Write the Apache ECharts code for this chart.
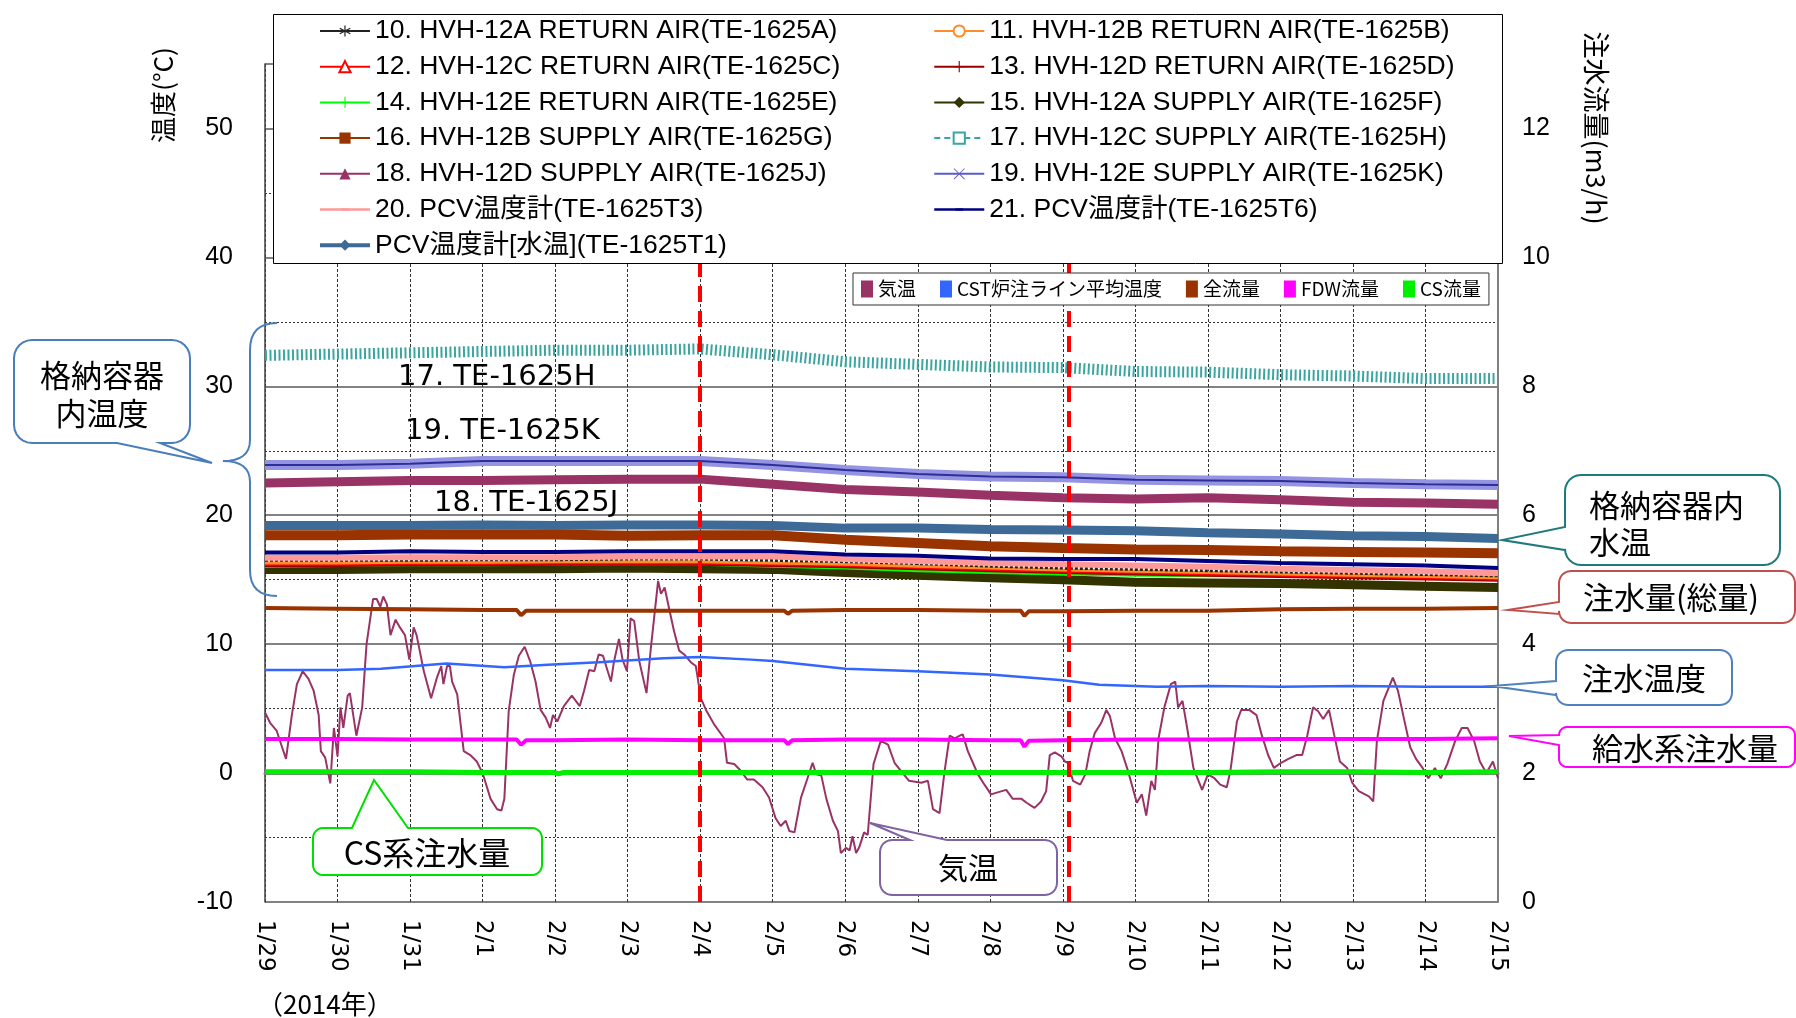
<!DOCTYPE html>
<html><head><meta charset="utf-8">
<script src="https://cdn.jsdelivr.net/npm/echarts@6/dist/echarts.min.js"></script>
<style>html,body{margin:0;padding:0;background:#fff;}#c{width:1796px;height:1018px;}</style>
</head><body><div id="c"></div>
<script>
// ---------- data ----------
const dateLabels = ['1/29','1/30','1/31','2/1','2/2','2/3','2/4','2/5','2/6','2/7','2/8','2/9','2/10','2/11','2/12','2/13','2/14','2/15'];
const days = [0,1,2,3,4,5,6,7,8,9,10,11,12,13,14,15,16,17];
const te1625A = [16.5,16.5,16.5,16.55,16.55,16.6,16.6,16.5,16.4,16.25,16.05,15.9,15.8,15.7,15.6,15.5,15.4,15.3];
const te1625B = [16.3,16.3,16.35,16.35,16.4,16.4,16.4,16.3,16.2,16.05,15.9,15.75,15.65,15.55,15.45,15.35,15.25,15.15];
const te1625C = [16.2,16.2,16.25,16.25,16.3,16.3,16.3,16.2,16.1,15.95,15.8,15.65,15.55,15.45,15.35,15.25,15.15,15.05];
const te1625D = [16.1,16.1,16.15,16.15,16.2,16.2,16.2,16.1,16.0,15.85,15.7,15.55,15.45,15.35,15.25,15.15,15.05,14.95];
const te1625E = [16.05,16.1,16.15,16.15,16.2,16.2,16.2,16.05,15.9,15.7,15.55,15.45,15.35,15.3,15.3,15.25,15.2,15.15];
const te1625F = [15.8,15.8,15.85,15.85,15.85,15.9,15.85,15.8,15.55,15.35,15.15,15.0,14.8,14.75,14.7,14.6,14.5,14.4];
const te1625G = [18.45,18.45,18.5,18.5,18.5,18.4,18.45,18.45,18.1,17.85,17.6,17.45,17.35,17.3,17.2,17.15,17.1,17.05];
const te1625H = [32.4,32.5,32.6,32.7,32.8,32.8,32.9,32.45,31.9,31.7,31.5,31.45,31.15,31.1,30.9,30.8,30.6,30.6];
const te1625J = [22.5,22.6,22.7,22.7,22.75,22.8,22.8,22.4,22.0,21.8,21.55,21.35,21.25,21.35,21.2,21.0,20.95,20.85];
const te1625K = [23.9,23.9,24.0,24.2,24.2,24.2,24.2,23.9,23.5,23.2,23.0,22.95,22.75,22.7,22.65,22.5,22.4,22.35];
const te1625T3 = [16.7,16.7,16.75,16.75,16.75,16.8,16.8,16.8,16.6,16.45,16.3,16.2,16.1,16.0,15.85,15.75,15.65,15.5];
const te1625T6 = [17.1,17.1,17.2,17.15,17.15,17.2,17.2,17.2,16.95,16.85,16.65,16.6,16.6,16.45,16.3,16.2,16.1,15.9];
const te1625T1 = [19.2,19.2,19.2,19.25,19.2,19.25,19.25,19.2,19.0,19.0,18.9,18.85,18.8,18.65,18.55,18.4,18.35,18.2];

const airTemp = [[0,4.7],[0.07,3.9],[0.16,3.3],[0.23,2.1],[0.29,1.1],[0.37,4.5],[0.44,6.9],[0.52,7.9],[0.6,7.3],[0.67,6.4],[0.74,4.5],[0.77,1.7],[0.83,1.2],[0.9,-0.8],[0.95,3.5],[1.0,1.3],[1.04,5.1],[1.08,3.5],[1.14,6.0],[1.17,6.2],[1.26,2.9],[1.34,5.1],[1.4,10.0],[1.49,13.5],[1.54,13.5],[1.59,12.9],[1.63,13.7],[1.68,13.1],[1.73,10.7],[1.8,11.9],[1.86,11.3],[1.93,10.7],[1.99,8.8],[2.05,11.3],[2.09,10.7],[2.19,7.9],[2.29,5.8],[2.37,7.4],[2.43,8.3],[2.46,6.9],[2.51,8.3],[2.55,8.3],[2.58,7.1],[2.65,6.1],[2.74,1.7],[2.83,1.4],[2.92,0.9],[3.0,0.0],[3.11,-2.0],[3.2,-2.8],[3.26,-2.9],[3.3,-2.0],[3.36,4.8],[3.43,7.6],[3.5,9.1],[3.58,9.8],[3.66,8.6],[3.73,7.1],[3.8,4.9],[3.87,4.3],[3.93,3.5],[3.97,4.5],[4.03,4.0],[4.12,5.2],[4.23,6.0],[4.34,5.2],[4.4,6.4],[4.47,8.0],[4.54,7.9],[4.6,9.2],[4.66,9.1],[4.72,8.0],[4.77,7.1],[4.81,8.6],[4.88,10.4],[4.93,8.8],[4.99,7.9],[5.04,12.0],[5.09,11.8],[5.16,8.7],[5.26,6.2],[5.32,9.7],[5.42,14.9],[5.46,13.9],[5.51,14.4],[5.57,12.8],[5.64,11.0],[5.71,9.5],[5.78,9.2],[5.87,8.6],[5.94,8.3],[6.01,5.8],[6.08,4.9],[6.19,3.8],[6.33,2.7],[6.37,0.8],[6.47,0.7],[6.54,0.3],[6.65,-0.5],[6.74,-0.5],[6.86,-1.1],[6.95,-1.9],[7.04,-3.5],[7.11,-4.1],[7.18,-3.7],[7.23,-4.5],[7.3,-4.6],[7.39,-1.9],[7.48,-0.4],[7.55,0.8],[7.6,-0.1],[7.67,-0.2],[7.74,-2.0],[7.83,-3.7],[7.9,-4.5],[7.94,-6.2],[8.01,-5.8],[8.06,-6.0],[8.1,-4.9],[8.15,-6.2],[8.19,-5.8],[8.26,-4.6],[8.31,-4.8],[8.39,0.7],[8.49,2.5],[8.59,2.2],[8.68,0.8],[8.77,0.15],[8.88,-0.6],[9.05,-0.75],[9.14,-0.6],[9.21,-2.8],[9.3,-3.1],[9.37,0.15],[9.44,2.9],[9.51,2.7],[9.58,2.9],[9.62,3.0],[9.69,1.7],[9.76,0.8],[9.83,-0.1],[9.92,-0.9],[10.01,-1.65],[10.1,-1.5],[10.22,-1.3],[10.31,-2.0],[10.43,-2.0],[10.5,-2.3],[10.61,-2.7],[10.7,-2.2],[10.77,-1.4],[10.82,1.4],[10.89,1.6],[10.98,1.3],[11.03,0.9],[11.07,0.8],[11.14,-0.6],[11.24,-0.9],[11.31,-0.1],[11.37,1.7],[11.44,3.1],[11.53,3.9],[11.6,4.9],[11.65,4.4],[11.72,2.7],[11.81,1.7],[11.9,0.15],[12.02,-2.3],[12.09,-1.65],[12.15,-3.3],[12.22,-0.6],[12.27,-1.3],[12.32,2.7],[12.4,5.1],[12.49,6.9],[12.55,7.1],[12.59,5.1],[12.65,5.6],[12.72,3.3],[12.8,0.4],[12.92,-1.3],[13.0,-0.1],[13.09,-0.4],[13.17,-0.9],[13.26,-1.1],[13.31,0.15],[13.4,4.0],[13.46,4.9],[13.57,4.9],[13.67,4.5],[13.74,3.0],[13.83,1.4],[13.91,0.4],[14.01,0.8],[14.11,1.1],[14.22,1.4],[14.3,1.4],[14.37,2.9],[14.45,5.1],[14.52,4.8],[14.59,4.2],[14.67,4.9],[14.74,3.0],[14.82,0.9],[14.92,0.4],[14.99,-0.75],[15.08,-1.4],[15.22,-1.8],[15.28,-2.2],[15.33,2.5],[15.42,5.6],[15.55,7.4],[15.62,6.4],[15.7,4.3],[15.79,2.0],[15.87,1.1],[15.96,0.4],[16.04,-0.4],[16.13,0.4],[16.21,-0.4],[16.3,0.7],[16.41,2.5],[16.5,3.5],[16.58,3.5],[16.67,2.5],[16.75,0.9],[16.84,0.0],[16.93,0.9],[17.0,-0.4]];
const cstTemp = [[0,8.0],[1,8.0],[1.6,8.1],[2.5,8.5],[3.3,8.2],[3.9,8.4],[4.6,8.6],[5.5,8.9],[6,9.0],[6.7,8.8],[7,8.7],[8,8.1],[9,7.9],[10,7.65],[11,7.2],[11.5,6.85],[12.3,6.7],[13,6.75],[14,6.7],[15,6.75],[16,6.7],[17,6.7]];
const totalFlow = [[0,4.56],[1,4.55],[2,4.54],[3,4.53],[3.47,4.53],[3.53,4.45],[3.6,4.52],[4,4.52],[5,4.52],[6,4.52],[7,4.52],[7.16,4.52],[7.21,4.47],[7.27,4.52],[8,4.53],[9,4.53],[10,4.52],[10.42,4.52],[10.47,4.44],[10.53,4.51],[11,4.51],[12,4.52],[13,4.52],[14,4.54],[15,4.55],[16,4.55],[17,4.56]];
const fdwFlow = [[0,2.53],[1,2.53],[2,2.52],[3,2.52],[3.47,2.52],[3.53,2.44],[3.6,2.51],[4,2.51],[5,2.52],[6,2.51],[7,2.51],[7.16,2.51],[7.21,2.45],[7.27,2.51],[8,2.52],[9,2.52],[10,2.51],[10.42,2.51],[10.47,2.41],[10.53,2.5],[11,2.51],[12,2.52],[13,2.52],[14,2.53],[15,2.53],[16,2.53],[17,2.54]];
const csFlow = [[0,2.02],[1,2.02],[2,2.02],[3,2.01],[3.98,2.01],[4.05,1.99],[4.12,2.01],[5,2.01],[6,2.01],[7,2.01],[8,2.01],[9,2.01],[10,2.01],[11,2.01],[12,2.01],[13,2.01],[14,2.02],[15,2.02],[16,2.01],[17,2.02]];
const eventDays = [6, 11.08];

// ---------- helpers ----------
const FONT_L = '"Liberation Sans", "Noto Sans CJK JP", sans-serif';
const FONT_J = '"Noto Sans CJK JP", sans-serif';
const zip = (xs, ys) => xs.map((x, i) => [x, ys[i]]);

const N = {
  A:'10. HVH-12A RETURN AIR(TE-1625A)', B:'11. HVH-12B RETURN AIR(TE-1625B)',
  C:'12. HVH-12C RETURN AIR(TE-1625C)', D:'13. HVH-12D RETURN AIR(TE-1625D)',
  E:'14. HVH-12E RETURN AIR(TE-1625E)', F:'15. HVH-12A SUPPLY AIR(TE-1625F)',
  G:'16. HVH-12B SUPPLY AIR(TE-1625G)', H:'17. HVH-12C SUPPLY AIR(TE-1625H)',
  J:'18. HVH-12D SUPPLY AIR(TE-1625J)', K:'19. HVH-12E SUPPLY AIR(TE-1625K)',
  T3:'20. PCV温度計(TE-1625T3)', T6:'21. PCV温度計(TE-1625T6)', T1:'PCV温度計[水温](TE-1625T1)',
  air:'気温', cst:'CST炉注ライン平均温度', tot:'全流量', fdw:'FDW流量', cs:'CS流量'
};
const SYM_AST = 'path://M9,0h2v8.3l7.2-4.2 1,1.7-7.2,4.2 7.2,4.2-1,1.7-7.2-4.2V20h-2v-8.3l-7.2,4.2-1-1.7 7.2-4.2-7.2-4.2 1-1.7 7.2,4.2z';
const SYM_PLUS = 'path://M9,0h2v9h9v2h-9v9h-2v-9H0v-2h9z';
const SYM_X = 'path://M2,1L10,9L18,1L19,2L11,10L19,18L18,19L10,11L2,19L1,18L9,10L1,2z';
const SYM_BAR = 'path://M0,0M20,20M3,8h14v4H3z';

function ln(name, data, color, width, symbol, extra) {
  const s = {
    name, type:'line', data, symbol, showSymbol:false, symbolSize:10,
    yAxisIndex:0, itemStyle:{color}, lineStyle:{color, width},
    emphasis:{disabled:true}, silent:true, animation:false, z:2
  };
  if (extra) {
    if (extra.lineStyle) Object.assign(s.lineStyle, extra.lineStyle);
    if (extra.yAxisIndex != null) s.yAxisIndex = extra.yAxisIndex;
    if (extra.markLine) s.markLine = extra.markLine;
  }
  return s;
}

function arcPts(cx, cy, r, a0, a1, n) {
  const p = [];
  for (let i = 0; i <= n; i++) { const a = a0 + (a1 - a0) * i / n; p.push([cx + r * Math.cos(a), cy + r * Math.sin(a)]); }
  return p;
}
function calloutPts(x, y, w, h, r, ptr) {
  const x2 = x + w, y2 = y + h, P = [];
  P.push(...arcPts(x + r, y + r, r, Math.PI, 1.5 * Math.PI, 6));
  if (ptr.side === 'top') P.push([ptr.a, y], [ptr.tx, ptr.ty], [ptr.b, y]);
  P.push(...arcPts(x2 - r, y + r, r, 1.5 * Math.PI, 2 * Math.PI, 6));
  P.push(...arcPts(x2 - r, y2 - r, r, 0, 0.5 * Math.PI, 6));
  if (ptr.side === 'bottom') P.push([ptr.b, y2], [ptr.tx, ptr.ty], [ptr.a, y2]);
  P.push(...arcPts(x + r, y2 - r, r, 0.5 * Math.PI, Math.PI, 6));
  if (ptr.side === 'left') P.push([x, ptr.b], [ptr.tx, ptr.ty], [x, ptr.a]);
  return P;
}
function txt(s, x, y, font, align, extra) {
  return Object.assign({ type:'text', x, y, z:13, silent:true,
    style:{ text:s, font, fill:'#000', align:align||'center', verticalAlign:'middle', textAlign:align||'center', textVerticalAlign:'middle' } }, extra || {});
}
function callout(box, ptr, stroke, lines) {
  const els = [{ type:'polygon', z:12, silent:true, shape:{ points: calloutPts(box[0], box[1], box[2], box[3], box[4], ptr) },
    style:{ fill:'#fff', stroke, lineWidth:2 } }];
  lines.forEach(l => els.push(txt(l[0], l[1], l[2], (l[4] || 31) + 'px ' + FONT_J, l[3])));
  return els;
}
function quad(p0, p1, p2, n) {
  const p = [];
  for (let i = 1; i <= n; i++) { const t = i / n, u = 1 - t;
    p.push([u*u*p0[0] + 2*u*t*p1[0] + t*t*p2[0], u*u*p0[1] + 2*u*t*p1[1] + t*t*p2[1]]); }
  return p;
}
const brace = [[277,323]].concat(quad([277,323],[250,323],[250,350],8), [[250,440]],
  quad([250,440],[250,461],[223,461],8), quad([223,461],[250,461],[250,482],8), [[250,570]],
  quad([250,570],[250,596],[277,596],8));

// ---------- series ----------
const series = [
  ln(N.air, airTemp, '#993366', 2),
  ln(N.cst, cstTemp, '#3366FF', 2.5),
  ln(N.tot, totalFlow, '#993300', 4, 'none', {yAxisIndex:1}),
  ln(N.fdw, fdwFlow, '#FF00FF', 4, 'none', {yAxisIndex:1}),
  ln(N.cs, csFlow, '#00EE00', 5, 'none', {yAxisIndex:1, markLine:{
    silent:true, symbol:['none','none'], animation:false, label:{show:false},
    lineStyle:{color:'#FF0000', width:4, type:[16,9]},
    data: eventDays.map(d => ({xAxis:d}))
  }}),
  ln(N.F, zip(days, te1625F), '#333300', 9, 'diamond'),
  ln(N.E, zip(days, te1625E), '#00FF00', 3, SYM_PLUS),
  ln(N.D, zip(days, te1625D), '#990000', 3, SYM_PLUS),
  ln(N.C, zip(days, te1625C), '#FF0000', 3, 'emptyTriangle'),
  ln(N.B, zip(days, te1625B), '#FF8C2A', 3, 'emptyCircle'),
  ln(N.A, zip(days, te1625A), '#222222', 3, SYM_AST, {lineStyle:{type:[3,2]}}),
  ln(N.T3, zip(days, te1625T3), '#FF9999', 6, SYM_BAR),
  ln(N.T6, zip(days, te1625T6), '#000080', 4, SYM_BAR),
  ln(N.G, zip(days, te1625G), '#993300', 10, 'rect'),
  ln(N.T1, zip(days, te1625T1), '#3D6A96', 9, 'diamond'),
  ln(N.J, zip(days, te1625J), '#993366', 9, 'triangle'),
  ln(N.K, zip(days, te1625K), '#5B5BC8', 10, SYM_X, {lineStyle:{color:'#9494E2'}}),
  Object.assign(ln('19c', zip(days, te1625K), '#2E2E99', 2, 'none'), {legendHoverLink:false}),
  ln(N.H, zip(days, te1625H), '#3AA69F', 11, 'emptyRect', {lineStyle:{type:[2,2.5]}})
];

// ---------- legends ----------
const legBase = {
  orient:'vertical', top:16, itemWidth:50, itemHeight:14, itemGap:5.7, padding:0, z:20,
  selectedMode:false, lineStyle:{width:2, type:'solid'},
  textStyle:{fontSize:26.5, fontFamily:FONT_L, color:'#000', lineHeight:30}
};
const legendLeft = [{name:N.A},{name:N.C},{name:N.E},{name:N.G},{name:N.J},{name:N.T3, lineStyle:{width:2.5}},{name:N.T1, lineStyle:{width:4}}];
const legendRight = [{name:N.B},{name:N.D},{name:N.F},{name:N.H, lineStyle:{type:[6,4]}},{name:N.K, lineStyle:{color:'#5B5BC8'}},{name:N.T6, lineStyle:{width:2.5}}];

const option = {
  animation:false,
  textStyle:{fontFamily:FONT_L},
  grid:{left:265, right:298, top:64, bottom:116, containLabel:false},
  legend:[
    Object.assign({}, legBase, {left:318, data:legendLeft}),
    Object.assign({}, legBase, {left:933, data:legendRight}),
    { orient:'horizontal', left:853, top:273, icon:'rect', itemWidth:12, itemHeight:17, itemGap:24,
      padding:[6,8,6,8], borderColor:'#333', borderWidth:1, backgroundColor:'#fff', z:20, selectedMode:false,
      textStyle:{fontSize:19, fontFamily:FONT_J, color:'#000', lineHeight:20},
      data:[N.air, N.cst, N.tot, N.fdw, N.cs] }
  ],
  xAxis:{
    type:'value', min:0, max:17, interval:1,
    axisLine:{show:true, lineStyle:{color:'#808080', width:3}},
    axisTick:{show:false},
    splitLine:{show:true, lineStyle:{color:'#333', width:1, type:[3,2]}},
    axisLabel:{rotate:-90, margin:18, fontSize:23, fontFamily:'"DejaVu Sans", sans-serif', color:'#000',
      formatter: v => dateLabels[Math.round(v)] || ''}
  },
  yAxis:[
    { type:'value', min:-10, max:55, interval:10, position:'left',
      axisLine:{show:true, lineStyle:{color:'#404040', width:1.5}},
      axisTick:{show:false},
      axisLabel:{fontSize:25, margin:32, color:'#000', showMaxLabel:false},
      splitLine:{show:true, lineStyle:{color:'#595959', width:1.5}},
      minorTick:{show:false, splitNumber:2},
      minorSplitLine:{show:true, lineStyle:{color:'#333', width:1, type:[2,2]}} },
    { type:'value', min:0, max:13, interval:2, position:'right',
      axisLine:{show:true, lineStyle:{color:'#808080', width:2}},
      axisTick:{show:false}, splitLine:{show:false},
      axisLabel:{fontSize:25, margin:24, color:'#000', showMaxLabel:false} }
  ],
  series,
  graphic:[].concat(
    [{ type:'rect', z:10, silent:true, shape:{x:273.5, y:14.5, width:1229, height:249}, style:{fill:'#fff', stroke:'#000', lineWidth:1} },
     { type:'polyline', z:10, silent:true, shape:{points:brace}, style:{fill:'none', stroke:'#4A7EBB', lineWidth:2} },
     txt('温度(°C)', 163, 95, '26px ' + FONT_J, 'center', {rotation:Math.PI/2}),
     txt('注水流量(m3/h)', 1596, 128, '27px ' + FONT_J, 'center', {rotation:-Math.PI/2}),
     txt('（2014年）', 257, 1004, '26px ' + FONT_J, 'left'),
     txt('17. TE-1625H', 398, 377, '29px "DejaVu Sans", sans-serif', 'left'),
     txt('19. TE-1625K', 405, 431, '29px "DejaVu Sans", sans-serif', 'left'),
     txt('18. TE-1625J', 434, 503, '29px "DejaVu Sans", sans-serif', 'left')],
    callout([14,340,176,103,18], {side:'bottom', a:117, b:160, tx:212, ty:463}, '#4A7EBB',
      [['格納容器',102,375],['内温度',102,413]]),
    callout([1565,475,215,90,16], {side:'left', a:527, b:550, tx:1502, ty:540}, '#1F7A7A',
      [['格納容器内',1589,505,'left'],['水温',1589,542,'left']]),
    callout([1559,571,236,52,12], {side:'left', a:602, b:614, tx:1508, ty:610}, '#C0504D',
      [['注水量(総量)',1583,597,'left']]),
    callout([1556,650,176,55,12], {side:'left', a:681, b:695, tx:1492, ty:686}, '#4F81BD',
      [['注水温度',1644,678]]),
    callout([1559,727,236,40,8], {side:'left', a:735, b:745, tx:1509, ty:736}, '#FF00FF',
      [['給水系注水量',1685,748]]),
    callout([313,828,229,47,10], {side:'top', a:352, b:408, tx:374, ty:780}, '#00E000',
      [['CS系注水量',427,853,'center',32]]),
    callout([880,840,177,55,12], {side:'top', a:910, b:947, tx:870, ty:823}, '#8064A2',
      [['気温',968,868,'center',30]])
  )
};
const chart = echarts.init(document.getElementById('c'), null, {renderer:'canvas'});
chart.setOption(option);
</script></body></html>
